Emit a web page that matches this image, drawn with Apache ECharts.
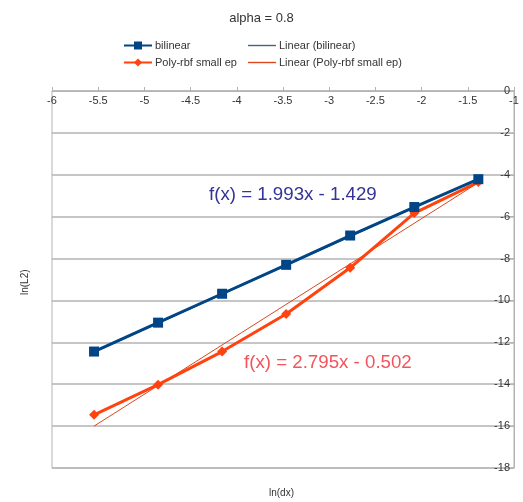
<!DOCTYPE html>
<html>
<head>
<meta charset="utf-8">
<script src="https://cdn.jsdelivr.net/npm/echarts@6/dist/echarts.min.js"></script>
<style>
  html, body { margin: 0; padding: 0; background: #fff; }
  #chart { width: 523px; height: 502px; }
</style>
</head>
<body>
<div id="chart"></div>
<script>
// ln(dx) values shared by both series
const lnDx = [-5.545, -4.852, -4.159, -3.466, -2.773, -2.079, -1.386];
// ln(L2) error for each method
const bilinear = [-12.44, -11.06, -9.68, -8.30, -6.90, -5.54, -4.21];
const polyRbf = [-15.46, -14.02, -12.44, -10.65, -8.44, -5.83, -4.35];
// linear trendline coefficients [slope, intercept]
const fitBilinear = [1.993, -1.429];
const fitPolyRbf = [2.795, -0.502];
// axis tick settings
const xTicks = { min: -6, max: -1, step: 0.5 };
const yTicks = { min: -18, max: 0, step: 2 };

const FONT = '"Liberation Sans", Arial, sans-serif';
const GRID = '#b3b3b3';

function pairs(xs, ys) { return xs.map((x, i) => [x, ys[i]]); }
function trend(xs, coef) {
  const lo = Math.min(...xs), hi = Math.max(...xs);
  return [[lo, coef[0] * lo + coef[1]], [hi, coef[0] * hi + coef[1]]];
}
function fmtEq(coef) {
  const s = coef[1] < 0 ? ' - ' : ' + ';
  return 'f(x) = ' + coef[0].toFixed(3) + 'x' + s + Math.abs(coef[1]).toFixed(3);
}

const chart = echarts.init(document.getElementById('chart'), null, { renderer: 'canvas' });

const legendBase = {
  orient: 'horizontal', itemWidth: 28, itemHeight: 10, itemGap: 0,
  textStyle: { fontFamily: FONT, fontSize: 11, color: '#333', padding: [0, 0, 0, -2] },
  padding: 0, selectedMode: false
};
// thin horizontal bar used as the legend icon for the trendlines
const thinLine = 'path://M0,0 L28,0 L28,1.4 L0,1.4 Z';

chart.setOption({
  animation: false,
  backgroundColor: '#fff',
  title: {
    text: 'alpha = 0.8', left: 'center', top: 7,
    textStyle: { fontFamily: FONT, fontSize: 13, fontWeight: 'normal', color: '#333' }
  },
  legend: [
    Object.assign({}, legendBase, { data: ['bilinear'], left: 123, top: 40 }),
    Object.assign({}, legendBase, {
      data: [{ name: 'Linear (bilinear)', icon: thinLine }], itemHeight: 2, left: 248, top: 40
    }),
    Object.assign({}, legendBase, { data: ['Poly-rbf small ep'], left: 123, top: 57 }),
    Object.assign({}, legendBase, {
      data: [{ name: 'Linear (Poly-rbf small ep)', icon: thinLine }], itemHeight: 2, left: 248, top: 57
    })
  ],
  grid: {
    left: 52, right: 9, top: 91, bottom: 34,
    show: true, borderColor: GRID, borderWidth: 1, containLabel: false
  },
  xAxis: {
    type: 'value', position: 'top',
    min: xTicks.min, max: xTicks.max, interval: xTicks.step,
    axisLine: { show: true, onZero: false, lineStyle: { color: GRID, width: 1 } },
    axisTick: { show: true, inside: false, length: 4, lineStyle: { color: GRID } },
    axisLabel: {
      inside: true, margin: 4, fontFamily: FONT, fontSize: 11, color: '#333',
      showMinLabel: true, showMaxLabel: true, hideOverlap: false,
      formatter: v => String(v)
    },
    splitLine: { show: false }
  },
  yAxis: {
    type: 'value', position: 'right',
    min: yTicks.min, max: yTicks.max, interval: yTicks.step,
    axisLine: { show: true, onZero: false, lineStyle: { color: GRID, width: 1 } },
    axisTick: { show: true, inside: true, length: 5, lineStyle: { color: GRID } },
    axisLabel: {
      inside: true, margin: 4, fontFamily: FONT, fontSize: 11, color: '#333',
      showMinLabel: true, showMaxLabel: true
    },
    splitLine: { show: true, lineStyle: { color: GRID, width: 1.6 } }
  },
  series: [
    {
      name: 'Linear (bilinear)', type: 'line', data: trend(lnDx, fitBilinear),
      symbol: 'none', z: 1,
      lineStyle: { color: '#4a5f84', width: 1 }, itemStyle: { color: '#4a5f84' }
    },
    {
      name: 'Linear (Poly-rbf small ep)', type: 'line', data: trend(lnDx, fitPolyRbf),
      symbol: 'none', z: 1,
      lineStyle: { color: '#d9481e', width: 1 }, itemStyle: { color: '#d9481e' }
    },
    {
      name: 'Poly-rbf small ep', type: 'line', data: pairs(lnDx, polyRbf),
      symbol: 'diamond', symbolSize: 10, z: 2,
      lineStyle: { color: '#ff420e', width: 3 }, itemStyle: { color: '#ff420e' }
    },
    {
      name: 'bilinear', type: 'line', data: pairs(lnDx, bilinear),
      symbol: 'rect', symbolSize: 10, z: 3,
      lineStyle: { color: '#004586', width: 3 }, itemStyle: { color: '#004586' }
    }
  ],
  graphic: [
    {
      type: 'text', left: 209, top: 185,
      style: { text: fmtEq(fitBilinear), font: '18.7px ' + FONT, fill: '#33339a' }
    },
    {
      type: 'text', left: 244, top: 353,
      style: { text: fmtEq(fitPolyRbf), font: '18.7px ' + FONT, fill: '#f2545b' }
    },
    {
      type: 'text', left: 269, top: 488,
      style: { text: 'ln(dx)', font: '10px ' + FONT, fill: '#333' }
    },
    {
      type: 'text', x: 20, y: 295, rotation: Math.PI / 2,
      style: { text: 'ln(L2)', font: '10px ' + FONT, fill: '#333' }
    }
  ]
});
</script>
</body>
</html>
